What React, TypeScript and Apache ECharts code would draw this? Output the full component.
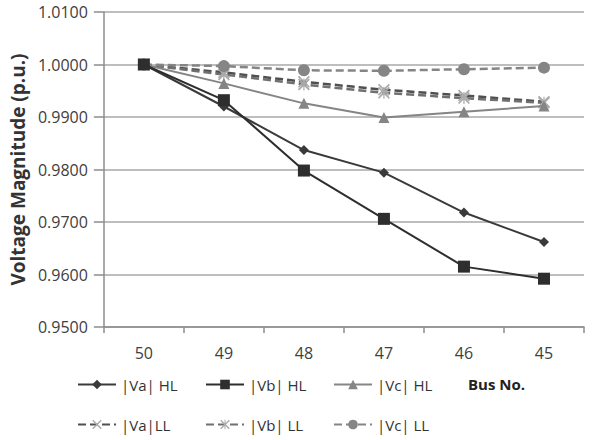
import React, { useEffect, useRef } from "react";
import * as echarts from "echarts";

const busNo = ["50", "49", "48", "47", "46", "45"];
const vaHL = [1.0, 0.992, 0.9837, 0.9794, 0.9718, 0.9662];
const vbHL = [1.0, 0.9932, 0.9798, 0.9706, 0.9615, 0.9592];
const vcHL = [1.0, 0.9964, 0.9926, 0.9899, 0.991, 0.9921];
const vaLL = [1.0, 0.9985, 0.9967, 0.9952, 0.9941, 0.9929];
const vbLL = [1.0, 0.9981, 0.9962, 0.9946, 0.9936, 0.9927];
const vcLL = [1.0, 0.9997, 0.9989, 0.9988, 0.9991, 0.9994];

const FONT = "'Open Sans', 'Noto Sans', sans-serif";

const CROSS =
  "path://M0,1 L1,0 L5,4 L9,0 L10,1 L6,5 L10,9 L9,10 L5,6 L1,10 L0,9 L4,5 Z";
const ASTERISK =
  "path://M0,1 L1,0 L5,4 L9,0 L10,1 L6,5 L10,9 L9,10 L5,6 L1,10 L0,9 L4,5 Z M4.5,0 L5.5,0 L5.5,10 L4.5,10 Z";

const legendAt = (name: string, left: number, top: number) => ({
  data: [name],
  left,
  top,
  itemWidth: 38,
  itemHeight: 12,
  padding: 0,
  textStyle: { fontFamily: FONT, fontSize: 15, color: "#333" },
});

export default function App() {
  const ref = useRef<HTMLDivElement>(null);

  useEffect(() => {
    if (!ref.current) return;
    const chart = echarts.init(ref.current, undefined, { renderer: "svg" });

    const dark = "#3a3a3a";
    const mid = "#858585";
    const light = "#aaaaaa";

    chart.setOption({
      animation: false,
      backgroundColor: "#fff",
      grid: { left: 100, right: 13, top: 12, bottom: 113 },
      legend: [
        legendAt("|Va| HL", 77, 377),
        legendAt("|Vb| HL", 205, 377),
        legendAt("|Vc| HL", 333, 377),
        legendAt("|Va|LL", 77, 417),
        legendAt("|Vb| LL", 205, 417),
        legendAt("|Vc| LL", 333, 417),
      ],
      graphic: [
        {
          type: "text",
          left: 468,
          top: 376,
          style: {
            text: "Bus No.",
            fontFamily: FONT,
            fontSize: 15,
            fontWeight: "bold",
            fill: "#222",
          },
        },
      ],
      xAxis: {
        type: "category",
        data: busNo,
        boundaryGap: true,
        axisLine: { lineStyle: { color: "#8c8c8c", width: 1.5 } },
        axisTick: { show: true, length: 6, lineStyle: { color: "#8c8c8c", width: 1.5 } },
        axisLabel: {
          fontFamily: FONT,
          fontSize: 16,
          color: "#404040",
          margin: 18,
        },
        splitLine: { show: false },
      },
      yAxis: {
        type: "value",
        min: 0.95,
        max: 1.01,
        interval: 0.01,
        name: "Voltage Magnitude (p.u.)",
        nameLocation: "middle",
        nameGap: 73,
        nameTextStyle: {
          fontFamily: FONT,
          fontSize: 19,
          fontWeight: "bold",
          color: "#333",
        },
        axisLine: { show: true, lineStyle: { color: "#8c8c8c", width: 1.5 } },
        axisTick: { show: true, length: 10, lineStyle: { color: "#8c8c8c", width: 1.5 } },
        axisLabel: {
          fontFamily: FONT,
          fontSize: 16,
          color: "#404040",
          margin: 16,
          formatter: (v: number) => v.toFixed(4),
        },
        splitLine: { lineStyle: { color: "#a8a8a8", width: 1.5 } },
      },
      series: [
        {
          name: "|Va|LL",
          type: "line",
          data: vaLL,
          symbol: CROSS,
          symbolSize: 12,
          lineStyle: { color: "#505050", width: 2.5, type: [8, 4] },
          itemStyle: { color: light },
          z: 3,
        },
        {
          name: "|Vb| LL",
          type: "line",
          data: vbLL,
          symbol: ASTERISK,
          symbolSize: 12,
          lineStyle: { color: "#707070", width: 2.5, type: [8, 4] },
          itemStyle: { color: light },
          z: 3,
        },
        {
          name: "|Vc| LL",
          type: "line",
          data: vcLL,
          symbol: "circle",
          symbolSize: 12,
          lineStyle: { color: mid, width: 2.5, type: [8, 4] },
          itemStyle: { color: mid },
          z: 3,
        },
        {
          name: "|Vc| HL",
          type: "line",
          data: vcHL,
          symbol: "triangle",
          symbolSize: 11,
          lineStyle: { color: mid, width: 2 },
          itemStyle: { color: mid },
          z: 4,
        },
        {
          name: "|Va| HL",
          type: "line",
          data: vaHL,
          symbol: "diamond",
          symbolSize: 10,
          lineStyle: { color: dark, width: 2 },
          itemStyle: { color: dark },
          z: 5,
        },
        {
          name: "|Vb| HL",
          type: "line",
          data: vbHL,
          symbol: "rect",
          symbolSize: 12,
          lineStyle: { color: "#2e2e2e", width: 2 },
          itemStyle: { color: "#2e2e2e" },
          z: 5,
        },
      ],
    });

    return () => chart.dispose();
  }, []);

  return (
    <div
      ref={ref}
      style={{ position: "fixed", left: 0, top: 0, width: 597, height: 440 }}
    />
  );
}
